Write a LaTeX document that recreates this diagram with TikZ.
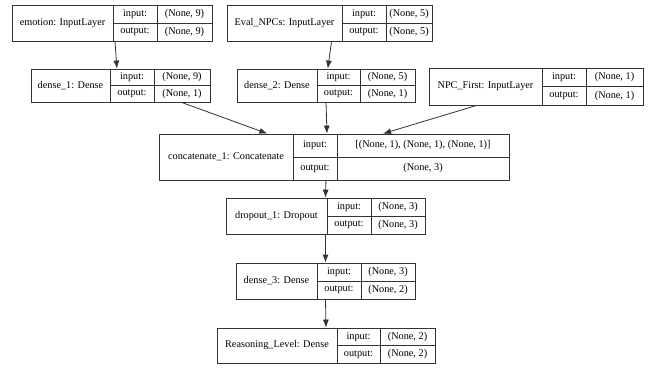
\documentclass[tikz,border=0pt]{standalone}
\usepackage{fontspec}
\setmainfont{Liberation Serif}
\usepackage{tikz}
\usetikzlibrary{arrows.meta,calc,fit}
\definecolor{rim}{HTML}{333333}

\tikzset{
  layer/.style={draw=rim,line width=0.8bp,inner sep=0pt},
  cell/.style={inner sep=0pt},
  edge/.style={draw=rim,line width=0.8bp,-{Latex[length=8bp,width=6bp]}}
}

% #1 name, #2 top left, #3 bottom right, #4 #5 dividers, #6 label, #7 input, #8 output
\newcommand{\layer}[8]{%
  \coordinate (#1-nw) at (#2);
  \coordinate (#1-se) at (#3);
  \coordinate (#1-a) at (#4,0);
  \coordinate (#1-b) at (#5,0);
  \node[layer,fit=(#1-nw)(#1-se)] (#1) {};
  \draw[draw=rim,line width=0.8bp] (#1-a |- #1-nw) -- (#1-a |- #1-se);
  \draw[draw=rim,line width=0.8bp] (#1-b |- #1-nw) -- (#1-b |- #1-se);
  \draw[draw=rim,line width=0.8bp] (#1-a |- #1.center) -- (#1-se |- #1.center);
  \node[cell] (#1-lbl) at ($(#1-nw)!0.5!(#1-a |- #1-se)$) {#6};
  \node[cell] (#1-ik) at ($(#1-a |- #1-nw)!0.5!(#1-b |- #1.center)$) {input:};
  \node[cell] (#1-ok) at ($(#1-a |- #1.center)!0.5!(#1-b |- #1-se)$) {output:};
  \node[cell] (#1-iv) at ($(#1-b |- #1-nw)!0.5!(#1-se |- #1.center)$) {#7};
  \node[cell] (#1-ov) at ($(#1-b |- #1.center)!0.5!(#1-se)$) {#8};
}

\begin{document}
\begin{tikzpicture}[x=1bp,y=-1bp,font=\fontsize{10.3}{12}\selectfont]
\useasboundingbox (0,0) rectangle (652,369);

\layer{emotion}{12,5}{212,41}{113}{157}{emotion: InputLayer}{(None, 9)}{(None, 9)}
\layer{evalnpc}{227,5}{432,41}{342}{386}{Eval\_NPCs: InputLayer}{(None, 5)}{(None, 5)}
\layer{dense1}{31,69}{210,102}{110}{154}{dense\_1: Dense}{(None, 9)}{(None, 1)}
\layer{dense2}{237,69}{415,102}{317}{360}{dense\_2: Dense}{(None, 5)}{(None, 1)}
\layer{npcfirst}{429,68}{643,105}{542}{586}{NPC\_First: InputLayer}{(None, 1)}{(None, 1)}
\layer{concat}{159,134}{509,180}{293}{337}{concatenate\_1: Concatenate}{[(None, 1), (None, 1), (None, 1)]}{(None, 3)}
\layer{dropout}{226,198}{425,234}{327}{371}{dropout\_1: Dropout}{(None, 3)}{(None, 3)}
\layer{dense3}{236,263}{415,299}{317}{361}{dense\_3: Dense}{(None, 3)}{(None, 2)}
\layer{reason}{217,328}{435,363}{337}{380}{Reasoning\_Level: Dense}{(None, 2)}{(None, 2)}

\draw[edge] ($(emotion.south west)!0.515!(emotion.south east)$) -- ($(dense1.north west)!0.48!(dense1.north east)$);
\draw[edge] ($(evalnpc.south west)!0.51!(evalnpc.south east)$) -- ($(dense2.north west)!0.51!(dense2.north east)$);
\draw[edge] ($(dense1.south west)!0.84!(dense1.south east)$) -- ($(concat.north west)!0.31!(concat.north east)$);
\draw[edge] ($(dense2.south west)!0.5!(dense2.south east)$) -- ($(concat.north west)!0.48!(concat.north east)$);
\draw[edge] ($(npcfirst.south west)!0.224!(npcfirst.south east)$) -- ($(concat.north west)!0.64!(concat.north east)$);
\draw[edge] ($(concat.south west)!0.477!(concat.south east)$) -- ($(dropout.north west)!0.5!(dropout.north east)$);
\draw[edge] ($(dropout.south west)!0.5!(dropout.south east)$) -- ($(dense3.north west)!0.5!(dense3.north east)$);
\draw[edge] ($(dense3.south west)!0.5!(dense3.south east)$) -- ($(reason.north west)!0.5!(reason.north east)$);
\end{tikzpicture}
\end{document}
